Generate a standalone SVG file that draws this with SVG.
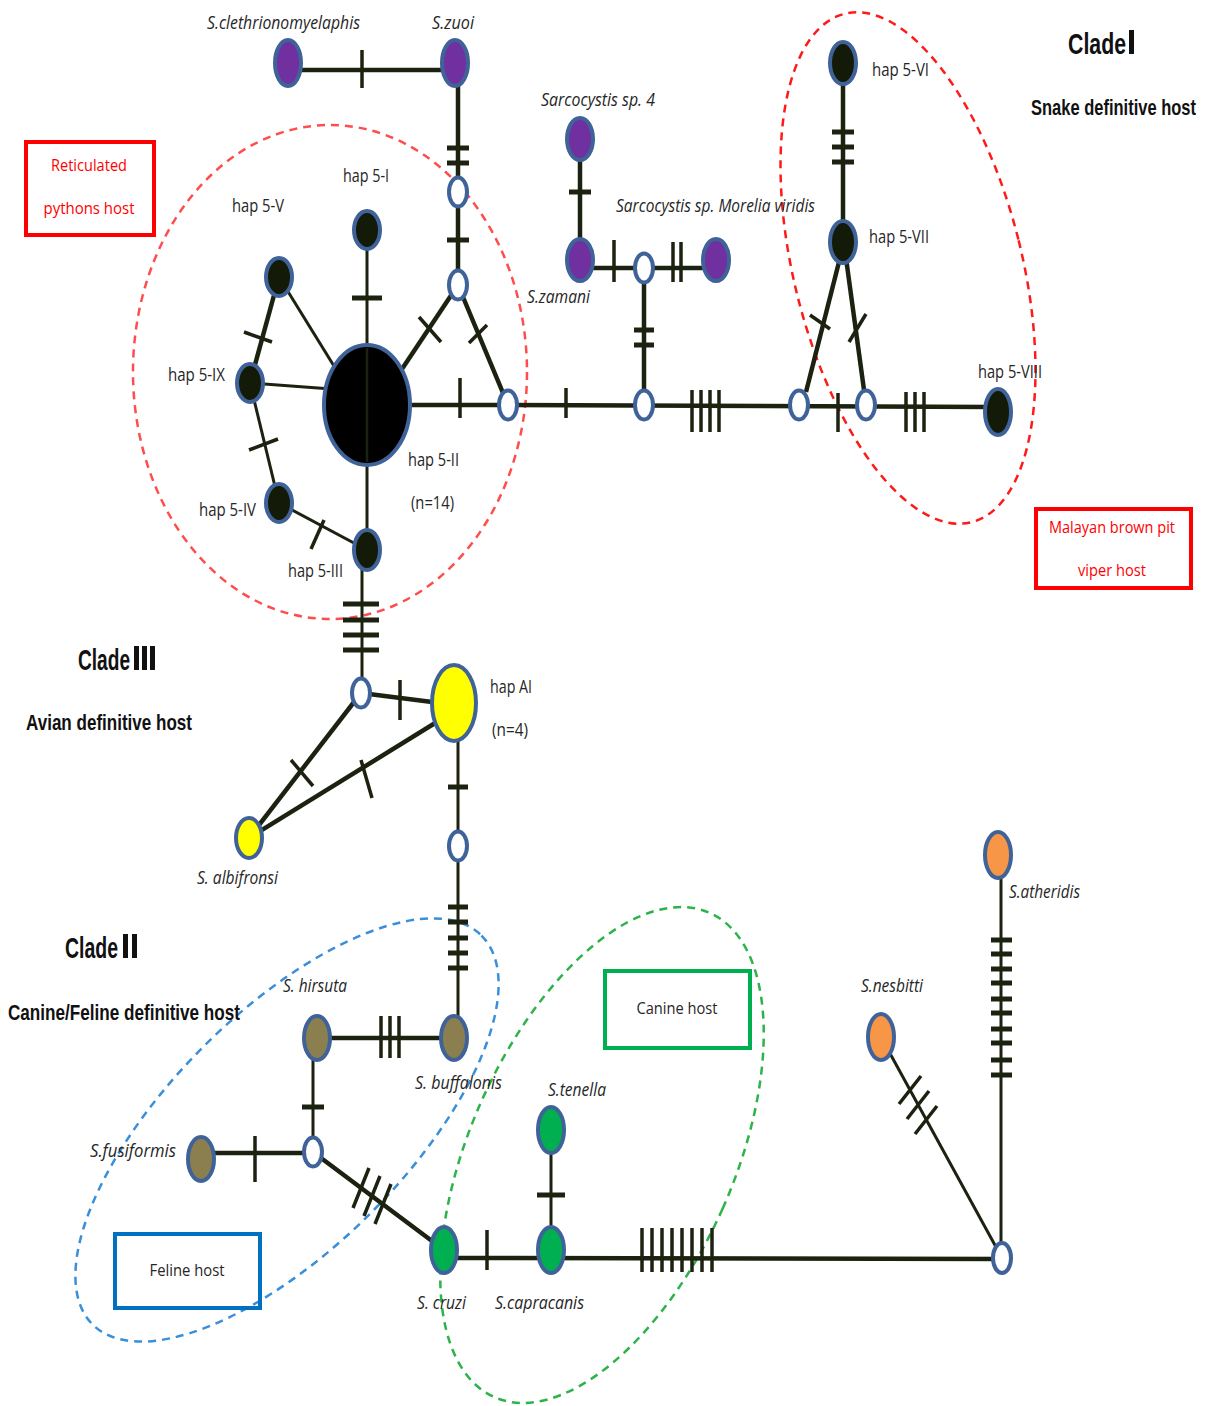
<svg xmlns="http://www.w3.org/2000/svg" width="1212" height="1406" viewBox="0 0 1212 1406">
<style>
.ln{stroke:#1b2210;stroke-width:4.5;fill:none;stroke-linecap:butt}
.th{stroke:#1b2210;stroke-width:3;fill:none}
.tk{stroke:#1b2210;stroke-width:3.5;fill:none}
.bar{stroke:#1b2210;stroke-width:5;fill:none}
.nd{stroke:#3f6399;stroke-width:4}
.blk{fill:#141a08}
.pur{fill:#7030a0}
.yel{fill:#ffff00}
.oli{fill:#8c7f4f}
.grn{fill:#00b050}
.org{fill:#f79646}
.hol{fill:#ffffff}
.lab{font-family:"Open Sans","DejaVu Sans",sans-serif;font-style:italic;font-size:18px;fill:#262626}
.hap{font-family:"Open Sans","DejaVu Sans",sans-serif;font-size:18px;fill:#262626}
.clade{font-family:"Liberation Sans",Arial,sans-serif;font-weight:bold;font-size:30px;fill:#111}
.sub{font-family:"Liberation Sans",Arial,sans-serif;font-weight:bold;font-size:16.5px;fill:#111}
.box{font-family:"Open Sans","DejaVu Sans",sans-serif;font-size:17px}
.dash{fill:none;stroke-width:2.5;stroke-dasharray:8 6}
</style>

<!-- dashed grouping ellipses -->
<g id="groupings">
<ellipse class="dash" cx="330" cy="372" rx="197" ry="247" stroke="#ff4d4d"/>
<ellipse class="dash" cx="908" cy="268" rx="114" ry="262" transform="rotate(-14 908 268)" stroke="#ff1a1a"/>
<ellipse class="dash" cx="287" cy="1130" rx="275" ry="118" transform="rotate(-45 287 1130)" stroke="#3a8fd8"/>
<ellipse class="dash" cx="602" cy="1155" rx="132" ry="265" transform="rotate(24 602 1155)" stroke="#2db34a"/>
</g>

<g id="connectors">
<!-- top purple pair -->
<line class="ln" x1="288" y1="70" x2="455" y2="70"/>
<line class="tk" x1="362" y1="50" x2="362" y2="88"/>
<line class="ln" x1="458" y1="70" x2="458" y2="285"/>
<line class="bar" x1="447" y1="148" x2="469" y2="148"/>
<line class="bar" x1="447" y1="163" x2="469" y2="163"/>
<line class="bar" x1="447" y1="240" x2="469" y2="240"/>
<!-- triangle from hollow (458,285) -->
<line class="ln" x1="458" y1="285" x2="400" y2="372"/>
<line class="tk" x1="419" y1="317" x2="441" y2="342"/>
<line class="ln" x1="458" y1="285" x2="508" y2="405"/>
<line class="tk" x1="469" y1="343" x2="487" y2="325"/>
<!-- python cluster -->
<line class="th" x1="367" y1="230" x2="367" y2="550"/>
<line class="bar" x1="352" y1="298" x2="382" y2="298"/>
<line class="th" x1="279" y1="277" x2="350" y2="392"/>
<line class="th" x1="250" y1="383" x2="345" y2="390"/>
<line class="ln" x1="279" y1="277" x2="250" y2="383"/>
<line class="tk" x1="244" y1="332" x2="272" y2="342"/>
<line class="th" x1="250" y1="383" x2="279" y2="503"/>
<line class="tk" x1="249" y1="450" x2="278" y2="439"/>
<line class="th" x1="279" y1="503" x2="367" y2="550"/>
<line class="tk" x1="324" y1="520" x2="311" y2="549"/>
<line class="ln" x1="367" y1="405" x2="508" y2="405"/>
<line class="tk" x1="460" y1="378" x2="460" y2="418"/>
<!-- down to clade III -->
<line class="th" x1="362" y1="550" x2="362" y2="693"/>
<line class="bar" x1="343" y1="604" x2="379" y2="604"/>
<line class="bar" x1="343" y1="620" x2="379" y2="620"/>
<line class="bar" x1="343" y1="635" x2="379" y2="635"/>
<line class="bar" x1="343" y1="650" x2="379" y2="650"/>
<!-- main horizontal -->
<line class="ln" x1="508" y1="405" x2="990" y2="407"/>
<line class="tk" x1="566" y1="388" x2="566" y2="418"/>
<line class="tk" x1="692" y1="390" x2="692" y2="432"/>
<line class="tk" x1="701" y1="390" x2="701" y2="432"/>
<line class="tk" x1="710" y1="390" x2="710" y2="432"/>
<line class="tk" x1="719" y1="390" x2="719" y2="432"/>
<line class="tk" x1="838" y1="393" x2="838" y2="432"/>
<line class="tk" x1="906" y1="392" x2="906" y2="432"/>
<line class="tk" x1="915" y1="392" x2="915" y2="432"/>
<line class="tk" x1="924" y1="392" x2="924" y2="432"/>
<!-- Sarcocystis sp. 4 / zamani / Morelia -->
<line class="ln" x1="580" y1="139" x2="580" y2="260"/>
<line class="bar" x1="569" y1="192" x2="591" y2="192"/>
<line class="ln" x1="580" y1="268" x2="716" y2="268"/>
<line class="tk" x1="614" y1="240" x2="614" y2="282"/>
<line class="tk" x1="673" y1="242" x2="673" y2="282"/>
<line class="tk" x1="681" y1="242" x2="681" y2="282"/>
<line class="ln" x1="644" y1="268" x2="644" y2="405"/>
<line class="bar" x1="634" y1="330" x2="654" y2="330"/>
<line class="bar" x1="634" y1="345" x2="654" y2="345"/>
<!-- hap 5-VI / 5-VII -->
<line class="ln" x1="843" y1="63" x2="843" y2="240"/>
<line class="bar" x1="832" y1="132" x2="854" y2="132"/>
<line class="bar" x1="832" y1="147" x2="854" y2="147"/>
<line class="bar" x1="832" y1="162" x2="854" y2="162"/>
<line class="ln" x1="840" y1="258" x2="806" y2="392"/>
<line class="tk" x1="810" y1="315" x2="830" y2="329"/>
<line class="ln" x1="846" y1="258" x2="864" y2="390"/>
<line class="tk" x1="849" y1="342" x2="866" y2="314"/>
<!-- clade III -->
<line class="ln" x1="361" y1="693" x2="440" y2="703"/>
<line class="tk" x1="400" y1="680" x2="400" y2="720"/>
<line class="ln" x1="361" y1="693" x2="249" y2="838"/>
<line class="tk" x1="291" y1="760" x2="313" y2="786"/>
<line class="ln" x1="440" y1="720" x2="249" y2="838"/>
<line class="tk" x1="361" y1="760" x2="372" y2="798"/>
<line class="th" x1="458" y1="720" x2="458" y2="1038"/>
<line class="bar" x1="448" y1="787" x2="468" y2="787"/>
<line class="bar" x1="448" y1="907" x2="468" y2="907"/>
<line class="bar" x1="448" y1="922" x2="468" y2="922"/>
<line class="bar" x1="448" y1="938" x2="468" y2="938"/>
<line class="bar" x1="448" y1="953" x2="468" y2="953"/>
<line class="bar" x1="448" y1="968" x2="468" y2="968"/>
<!-- clade II -->
<line class="ln" x1="317" y1="1038" x2="454" y2="1038"/>
<line class="tk" x1="381" y1="1016" x2="381" y2="1058"/>
<line class="tk" x1="390" y1="1016" x2="390" y2="1058"/>
<line class="tk" x1="399" y1="1016" x2="399" y2="1058"/>
<line class="th" x1="313" y1="1038" x2="313" y2="1152"/>
<line class="bar" x1="302" y1="1107" x2="324" y2="1107"/>
<line class="ln" x1="201" y1="1153" x2="313" y2="1153"/>
<line class="tk" x1="255" y1="1136" x2="255" y2="1182"/>
<line class="ln" x1="313" y1="1152" x2="444" y2="1250"/>
<line class="tk" x1="369" y1="1168" x2="353" y2="1208"/>
<line class="tk" x1="380" y1="1176" x2="364" y2="1216"/>
<line class="tk" x1="391" y1="1184" x2="375" y2="1224"/>
<line class="ln" x1="444" y1="1258" x2="1002" y2="1259"/>
<line class="tk" x1="487" y1="1230" x2="487" y2="1270"/>
<line class="th" x1="551" y1="1130" x2="551" y2="1250"/>
<line class="bar" x1="537" y1="1195" x2="565" y2="1195"/>
<line class="tk" x1="642" y1="1228" x2="642" y2="1272"/>
<line class="tk" x1="652" y1="1228" x2="652" y2="1272"/>
<line class="tk" x1="662" y1="1228" x2="662" y2="1272"/>
<line class="tk" x1="672" y1="1228" x2="672" y2="1272"/>
<line class="tk" x1="682" y1="1228" x2="682" y2="1272"/>
<line class="tk" x1="692" y1="1228" x2="692" y2="1272"/>
<line class="tk" x1="702" y1="1228" x2="702" y2="1272"/>
<line class="tk" x1="712" y1="1228" x2="712" y2="1272"/>
<line class="th" x1="881" y1="1037" x2="1002" y2="1258"/>
<line class="tk" x1="921" y1="1076" x2="899" y2="1104"/>
<line class="tk" x1="929" y1="1091" x2="907" y2="1119"/>
<line class="tk" x1="937" y1="1106" x2="915" y2="1134"/>
<line class="th" x1="1001" y1="855" x2="1001" y2="1258"/>
<line class="bar" x1="991" y1="940" x2="1012" y2="940"/>
<line class="bar" x1="991" y1="954" x2="1012" y2="954"/>
<line class="bar" x1="991" y1="969" x2="1012" y2="969"/>
<line class="bar" x1="991" y1="983" x2="1012" y2="983"/>
<line class="bar" x1="991" y1="999" x2="1012" y2="999"/>
<line class="bar" x1="991" y1="1013" x2="1012" y2="1013"/>
<line class="bar" x1="991" y1="1029" x2="1012" y2="1029"/>
<line class="bar" x1="991" y1="1043" x2="1012" y2="1043"/>
<line class="bar" x1="991" y1="1060" x2="1012" y2="1060"/>
<line class="bar" x1="991" y1="1075" x2="1012" y2="1075"/>
</g>

<!-- nodes -->
<g id="n-clethrionomyelaphis"><ellipse class="nd pur" cx="288" cy="63" rx="13" ry="23"/><text class="lab" x="207" y="29" textLength="153" lengthAdjust="spacingAndGlyphs">S.clethrionomyelaphis</text></g>
<g id="n-zuoi"><ellipse class="nd pur" cx="455" cy="63" rx="13" ry="23"/><text class="lab" x="432" y="29" textLength="42" lengthAdjust="spacingAndGlyphs">S.zuoi</text></g>
<g id="h-1"><ellipse class="nd hol" cx="458" cy="192" rx="9" ry="14.5"/></g>
<g id="h-2"><ellipse class="nd hol" cx="458" cy="285" rx="9" ry="14.5"/></g>
<g id="n-hap5-II"><ellipse class="nd" fill="#000" cx="367" cy="405" rx="43" ry="60"/><line x1="367" y1="348" x2="367" y2="462" stroke="#1b2210" stroke-width="2.5"/><text class="hap" x="408" y="466" textLength="51" lengthAdjust="spacingAndGlyphs">hap 5-II</text><text class="hap" x="411" y="509" textLength="43" lengthAdjust="spacingAndGlyphs">(n=14)</text></g>
<g id="n-hap5-I"><ellipse class="nd blk" cx="367" cy="230" rx="13" ry="19"/><text class="hap" x="343" y="182" textLength="46" lengthAdjust="spacingAndGlyphs">hap 5-I</text></g>
<g id="n-hap5-V"><ellipse class="nd blk" cx="279" cy="277" rx="13" ry="19"/><text class="hap" x="232" y="212" textLength="52" lengthAdjust="spacingAndGlyphs">hap 5-V</text></g>
<g id="n-hap5-IX"><ellipse class="nd blk" cx="250" cy="383" rx="13" ry="19"/><text class="hap" x="168" y="381" textLength="57" lengthAdjust="spacingAndGlyphs">hap 5-IX</text></g>
<g id="n-hap5-IV"><ellipse class="nd blk" cx="279" cy="503" rx="13" ry="19"/><text class="hap" x="199" y="516" textLength="57" lengthAdjust="spacingAndGlyphs">hap 5-IV</text></g>
<g id="n-hap5-III"><ellipse class="nd blk" cx="367" cy="550" rx="13" ry="20"/><text class="hap" x="288" y="577" textLength="55" lengthAdjust="spacingAndGlyphs">hap 5-III</text></g>
<g id="h-3"><ellipse class="nd hol" cx="508" cy="405" rx="9" ry="14.5"/></g>
<g id="n-sp4"><ellipse class="nd pur" cx="580" cy="139" rx="13" ry="21"/><text class="lab" x="541" y="106" textLength="114" lengthAdjust="spacingAndGlyphs">Sarcocystis sp. 4</text></g>
<g id="n-zamani"><ellipse class="nd pur" cx="580" cy="260" rx="13" ry="21"/><text class="lab" x="527" y="303" textLength="63" lengthAdjust="spacingAndGlyphs">S.zamani</text></g>
<g id="h-4"><ellipse class="nd hol" cx="644" cy="268" rx="9" ry="14.5"/></g>
<g id="n-morelia"><ellipse class="nd pur" cx="716" cy="260" rx="13" ry="21"/><text class="lab" x="616" y="212" textLength="199" lengthAdjust="spacingAndGlyphs">Sarcocystis sp. Morelia viridis</text></g>
<g id="h-5"><ellipse class="nd hol" cx="644" cy="405" rx="9" ry="14.5"/></g>
<g id="n-hap5-VI"><ellipse class="nd blk" cx="843" cy="63" rx="13" ry="21"/><text class="hap" x="872" y="76" textLength="57" lengthAdjust="spacingAndGlyphs">hap 5-VI</text></g>
<g id="n-hap5-VII"><ellipse class="nd blk" cx="843" cy="242" rx="13" ry="21"/><text class="hap" x="869" y="243" textLength="60" lengthAdjust="spacingAndGlyphs">hap 5-VII</text></g>
<g id="h-6"><ellipse class="nd hol" cx="799" cy="405" rx="9" ry="14.5"/></g>
<g id="h-7"><ellipse class="nd hol" cx="866" cy="405" rx="9" ry="14.5"/></g>
<g id="n-hap5-VIII"><ellipse class="nd blk" cx="998" cy="412" rx="13" ry="23"/><text class="hap" x="978" y="378" textLength="64" lengthAdjust="spacingAndGlyphs">hap 5-VIII</text></g>
<g id="h-8"><ellipse class="nd hol" cx="361" cy="693" rx="9" ry="14.5"/></g>
<g id="n-hapAI"><ellipse class="nd yel" cx="454" cy="703" rx="22" ry="38"/><text class="hap" x="490" y="693" textLength="42" lengthAdjust="spacingAndGlyphs">hap AI</text><text class="hap" x="492" y="736" textLength="36" lengthAdjust="spacingAndGlyphs">(n=4)</text></g>
<g id="n-albifronsi"><ellipse class="nd yel" cx="249" cy="838" rx="13" ry="20"/><text class="lab" x="197" y="884" textLength="81" lengthAdjust="spacingAndGlyphs">S. albifronsi</text></g>
<g id="h-9"><ellipse class="nd hol" cx="458" cy="846" rx="9" ry="14.5"/></g>
<g id="n-hirsuta"><ellipse class="nd oli" cx="317" cy="1038" rx="13" ry="22"/><text class="lab" x="283" y="992" textLength="64" lengthAdjust="spacingAndGlyphs">S. hirsuta</text></g>
<g id="n-buffalonis"><ellipse class="nd oli" cx="454" cy="1038" rx="13" ry="22"/><text class="lab" x="415" y="1089" textLength="87" lengthAdjust="spacingAndGlyphs">S. buffalonis</text></g>
<g id="h-10"><ellipse class="nd hol" cx="313" cy="1152" rx="9" ry="14.5"/></g>
<g id="n-fusiformis"><ellipse class="nd oli" cx="201" cy="1159" rx="13" ry="22"/><text class="lab" x="90" y="1157" textLength="86" lengthAdjust="spacingAndGlyphs">S.fusiformis</text></g>
<g id="n-cruzi"><ellipse class="nd grn" cx="444" cy="1250" rx="13" ry="23"/><text class="lab" x="417" y="1309" textLength="49" lengthAdjust="spacingAndGlyphs">S. cruzi</text></g>
<g id="n-capracanis"><ellipse class="nd grn" cx="551" cy="1250" rx="13" ry="23"/><text class="lab" x="495" y="1309" textLength="89" lengthAdjust="spacingAndGlyphs">S.capracanis</text></g>
<g id="n-tenella"><ellipse class="nd grn" cx="551" cy="1130" rx="13" ry="23"/><text class="lab" x="548" y="1096" textLength="58" lengthAdjust="spacingAndGlyphs">S.tenella</text></g>
<g id="n-nesbitti"><ellipse class="nd org" cx="881" cy="1037" rx="13" ry="23"/><text class="lab" x="861" y="992" textLength="62" lengthAdjust="spacingAndGlyphs">S.nesbitti</text></g>
<g id="n-atheridis"><ellipse class="nd org" cx="998" cy="855" rx="13" ry="23"/><text class="lab" x="1009" y="898" textLength="71" lengthAdjust="spacingAndGlyphs">S.atheridis</text></g>
<g id="h-11"><ellipse class="nd hol" cx="1002" cy="1258" rx="9" ry="15"/></g>

<!-- legend boxes -->
<g id="box-pythons"><rect x="26" y="142" width="128" height="93" fill="none" stroke="#ff0000" stroke-width="4"/><text class="box" fill="#ff0000" x="89" y="171" text-anchor="middle" textLength="76" lengthAdjust="spacingAndGlyphs">Reticulated</text><text class="box" fill="#ff0000" x="89" y="214" text-anchor="middle" textLength="91" lengthAdjust="spacingAndGlyphs">pythons host</text></g>
<g id="box-viper"><rect x="1036" y="509" width="155" height="79" fill="none" stroke="#ff0000" stroke-width="4"/><text class="box" fill="#ff0000" x="1112" y="533" text-anchor="middle" textLength="126" lengthAdjust="spacingAndGlyphs">Malayan brown pit</text><text class="box" fill="#ff0000" x="1112" y="576" text-anchor="middle" textLength="68" lengthAdjust="spacingAndGlyphs">viper host</text></g>
<g id="box-canine"><rect x="605" y="971" width="145" height="77" fill="none" stroke="#00b050" stroke-width="4"/><text class="box" fill="#262626" x="677" y="1014" text-anchor="middle" textLength="81" lengthAdjust="spacingAndGlyphs">Canine host</text></g>
<g id="box-feline"><rect x="115" y="1234" width="145" height="74" fill="none" stroke="#0070c0" stroke-width="4"/><text class="box" fill="#262626" x="187" y="1276" text-anchor="middle" textLength="75" lengthAdjust="spacingAndGlyphs">Feline host</text></g>

<!-- clade titles -->
<g id="clade-I"><text class="clade" x="1068" y="54" textLength="58" lengthAdjust="spacingAndGlyphs">Clade</text><rect x="1129" y="30" width="5" height="24" fill="#111"/><text class="sub" transform="translate(1031 115) scale(1 1.38)" x="0" y="0" textLength="165" lengthAdjust="spacingAndGlyphs">Snake definitive host</text></g>
<g id="clade-III"><text class="clade" x="78" y="670" textLength="52" lengthAdjust="spacingAndGlyphs">Clade</text><rect x="134" y="646" width="5" height="24" fill="#111"/><rect x="142" y="646" width="5" height="24" fill="#111"/><rect x="150" y="646" width="5" height="24" fill="#111"/><text class="sub" transform="translate(26 730) scale(1 1.38)" x="0" y="0" textLength="166" lengthAdjust="spacingAndGlyphs">Avian definitive host</text></g>
<g id="clade-II"><text class="clade" x="65" y="958" textLength="53" lengthAdjust="spacingAndGlyphs">Clade</text><rect x="123" y="934" width="5" height="24" fill="#111"/><rect x="132" y="934" width="5" height="24" fill="#111"/><text class="sub" transform="translate(8 1020) scale(1 1.38)" x="0" y="0" textLength="232" lengthAdjust="spacingAndGlyphs">Canine/Feline definitive host</text></g>
</svg>
